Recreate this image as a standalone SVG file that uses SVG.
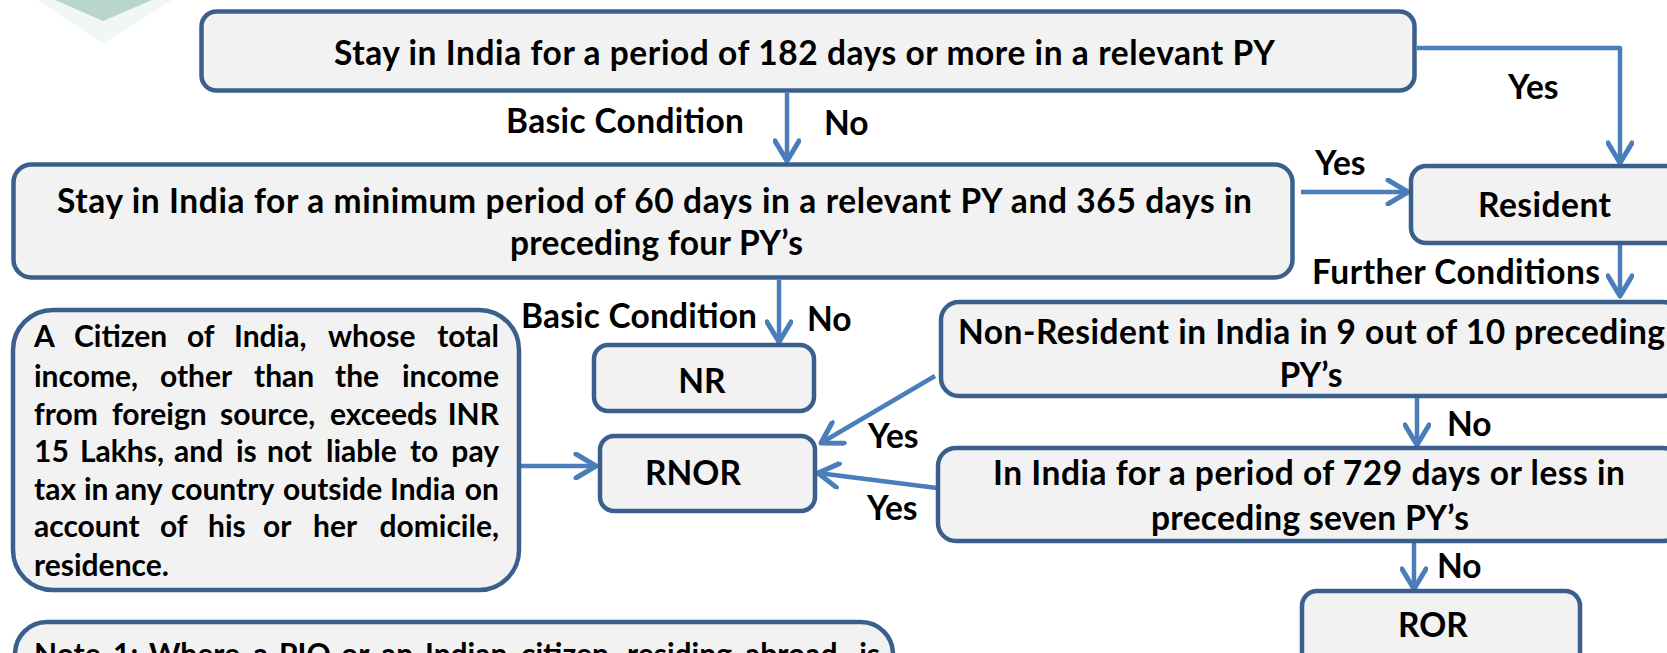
<svg xmlns="http://www.w3.org/2000/svg" width="1667" height="653" viewBox="0 0 1667 653">
<style>
.box{fill:#f2f2f2;stroke:#3a5f8c;stroke-width:4.5}
.con{fill:none;stroke:#4a7ebb;stroke-width:4.5;stroke-linejoin:round}
.t{font-family:Lato,"Open Sans","DejaVu Sans",sans-serif;font-weight:bold;font-size:33.5px;fill:#000}
.m{text-anchor:middle}
.e{text-anchor:end}
.s{font-size:30px}
</style>
<defs>
<marker id="ah" markerUnits="userSpaceOnUse" viewBox="-24 -14 28 28" refX="0" refY="0" markerWidth="28" markerHeight="28" orient="auto">
<path d="M-20,-12 L0,0 L-20,12" fill="none" stroke="#4a7ebb" stroke-width="5" stroke-linecap="round" stroke-linejoin="round"/>
</marker>
</defs>
<rect width="1667" height="653" fill="#ffffff"/>
<g id="logo">
<polygon points="38,0 172,0 103,44" fill="#f1f7f5"/>
<polygon points="55,0 152,0 103,21" fill="#b9d6cb"/>
</g>
<g id="connectors">
<line class="con" x1="787" y1="93" x2="787" y2="161" marker-end="url(#ah)"/>
<path class="con" d="M1417,48 H1620 V163" marker-end="url(#ah)"/>
<line class="con" x1="1301" y1="192" x2="1408" y2="192" marker-end="url(#ah)"/>
<line class="con" x1="1620" y1="245" x2="1620" y2="296" marker-end="url(#ah)"/>
<line class="con" x1="779" y1="280" x2="779" y2="342" marker-end="url(#ah)"/>
<line class="con" x1="935" y1="376" x2="821" y2="443" marker-end="url(#ah)"/>
<line class="con" x1="937" y1="488" x2="818" y2="473" marker-end="url(#ah)"/>
<line class="con" x1="521" y1="466" x2="596" y2="466" marker-end="url(#ah)"/>
<line class="con" x1="1417" y1="398" x2="1417" y2="445" marker-end="url(#ah)"/>
<line class="con" x1="1414" y1="543" x2="1414" y2="589" marker-end="url(#ah)"/>
</g>
<g id="labels">
<text class="t" x="506" y="133" textLength="238">Basic Condition</text>
<text class="t" x="824" y="135">No</text>
<text class="t" x="1508" y="99">Yes</text>
<text class="t" x="1315" y="175">Yes</text>
<text class="t" x="1312" y="284" textLength="288">Further Conditions</text>
<text class="t" x="521" y="328" textLength="236">Basic Condition</text>
<text class="t" x="807" y="331">No</text>
<text class="t" x="868" y="448">Yes</text>
<text class="t" x="867" y="520">Yes</text>
<text class="t" x="1447" y="436">No</text>
<text class="t" x="1437" y="578">No</text>
</g>
<g id="n-stay182">
<rect class="box" x="201.5" y="11.5" width="1213" height="79" rx="15"/>
<text class="t" x="334" y="65" textLength="941">Stay in India for a period of 182 days or more in a relevant PY</text>
</g>
<g id="n-stay60">
<rect class="box" x="13.5" y="164.5" width="1279" height="113" rx="18"/>
<text class="t" x="57" y="213" textLength="1195">Stay in India for a minimum period of 60 days in a relevant PY and 365 days in</text>
<text class="t" x="510" y="255" textLength="293">preceding four PY’s</text>
</g>
<g id="n-resident">
<rect class="box" x="1411" y="166" width="300" height="77" rx="15"/>
<text class="t" x="1478" y="217" textLength="133">Resident</text>
</g>
<g id="n-nonres">
<rect class="box" x="941" y="302" width="740" height="94" rx="18"/>
<text class="t" x="958" y="344" textLength="707">Non-Resident in India in 9 out of 10 preceding</text>
<text class="t m" x="1311" y="387">PY’s</text>
</g>
<g id="n-729">
<rect class="box" x="938" y="448" width="743" height="93" rx="18"/>
<text class="t" x="993" y="485" textLength="632">In India for a period of 729 days or less in</text>
<text class="t" x="1151" y="530" textLength="318">preceding seven PY’s</text>
</g>
<g id="n-ror">
<rect class="box" x="1302" y="591" width="278" height="80" rx="15"/>
<text class="t m" x="1433" y="637">ROR</text>
</g>
<g id="n-nr">
<rect class="box" x="594" y="345" width="220" height="66" rx="14"/>
<text class="t m" x="702" y="393">NR</text>
</g>
<g id="n-rnor">
<rect class="box" x="600" y="436" width="215" height="75" rx="14"/>
<text class="t m" x="693" y="485">RNOR</text>
</g>
<g id="n-citizen">
<rect class="box" x="13" y="310" width="506" height="280" rx="40"/>
<text class="t s" y="347"><tspan x="34">A</tspan><tspan x="74">Citizen</tspan><tspan x="187">of</tspan><tspan x="234">India,</tspan><tspan x="328">whose</tspan><tspan class="e" x="499">total</tspan></text>
<text class="t s" y="387"><tspan x="34">income,</tspan><tspan x="160">other</tspan><tspan x="254">than</tspan><tspan x="335">the</tspan><tspan class="e" x="499">income</tspan></text>
<text class="t s" y="425"><tspan x="34">from</tspan><tspan x="112">foreign</tspan><tspan x="220">source,</tspan><tspan x="330">exceeds</tspan><tspan class="e" x="499">INR</tspan></text>
<text class="t s" y="462"><tspan x="34">15</tspan><tspan x="80">Lakhs,</tspan><tspan x="174">and</tspan><tspan x="236">is</tspan><tspan x="267">not</tspan><tspan x="326">liable</tspan><tspan x="410">to</tspan><tspan class="e" x="499">pay</tspan></text>
<text class="t s" y="500"><tspan x="34">tax</tspan><tspan x="84">in</tspan><tspan x="115">any</tspan><tspan x="171">country</tspan><tspan x="283">outside</tspan><tspan x="390">India</tspan><tspan class="e" x="499">on</tspan></text>
<text class="t s" y="537"><tspan x="34">account</tspan><tspan x="160">of</tspan><tspan x="208">his</tspan><tspan x="263">or</tspan><tspan x="313">her</tspan><tspan class="e" x="499">domicile,</tspan></text>
<text class="t s" x="34" y="576">residence.</text>
</g>
<g id="n-note">
<rect class="box" x="15" y="622" width="878" height="80" rx="32"/>
<text class="t s" y="665"><tspan x="34">Note</tspan><tspan x="113">1:</tspan><tspan x="149">Where</tspan><tspan x="253">a</tspan><tspan x="279">PIO</tspan><tspan x="341">or</tspan><tspan x="381">an</tspan><tspan x="425">Indian</tspan><tspan x="521">citizen,</tspan><tspan x="627">residing</tspan><tspan x="745">abroad,</tspan><tspan class="e" x="880">is</tspan></text>
</g>
</svg>
